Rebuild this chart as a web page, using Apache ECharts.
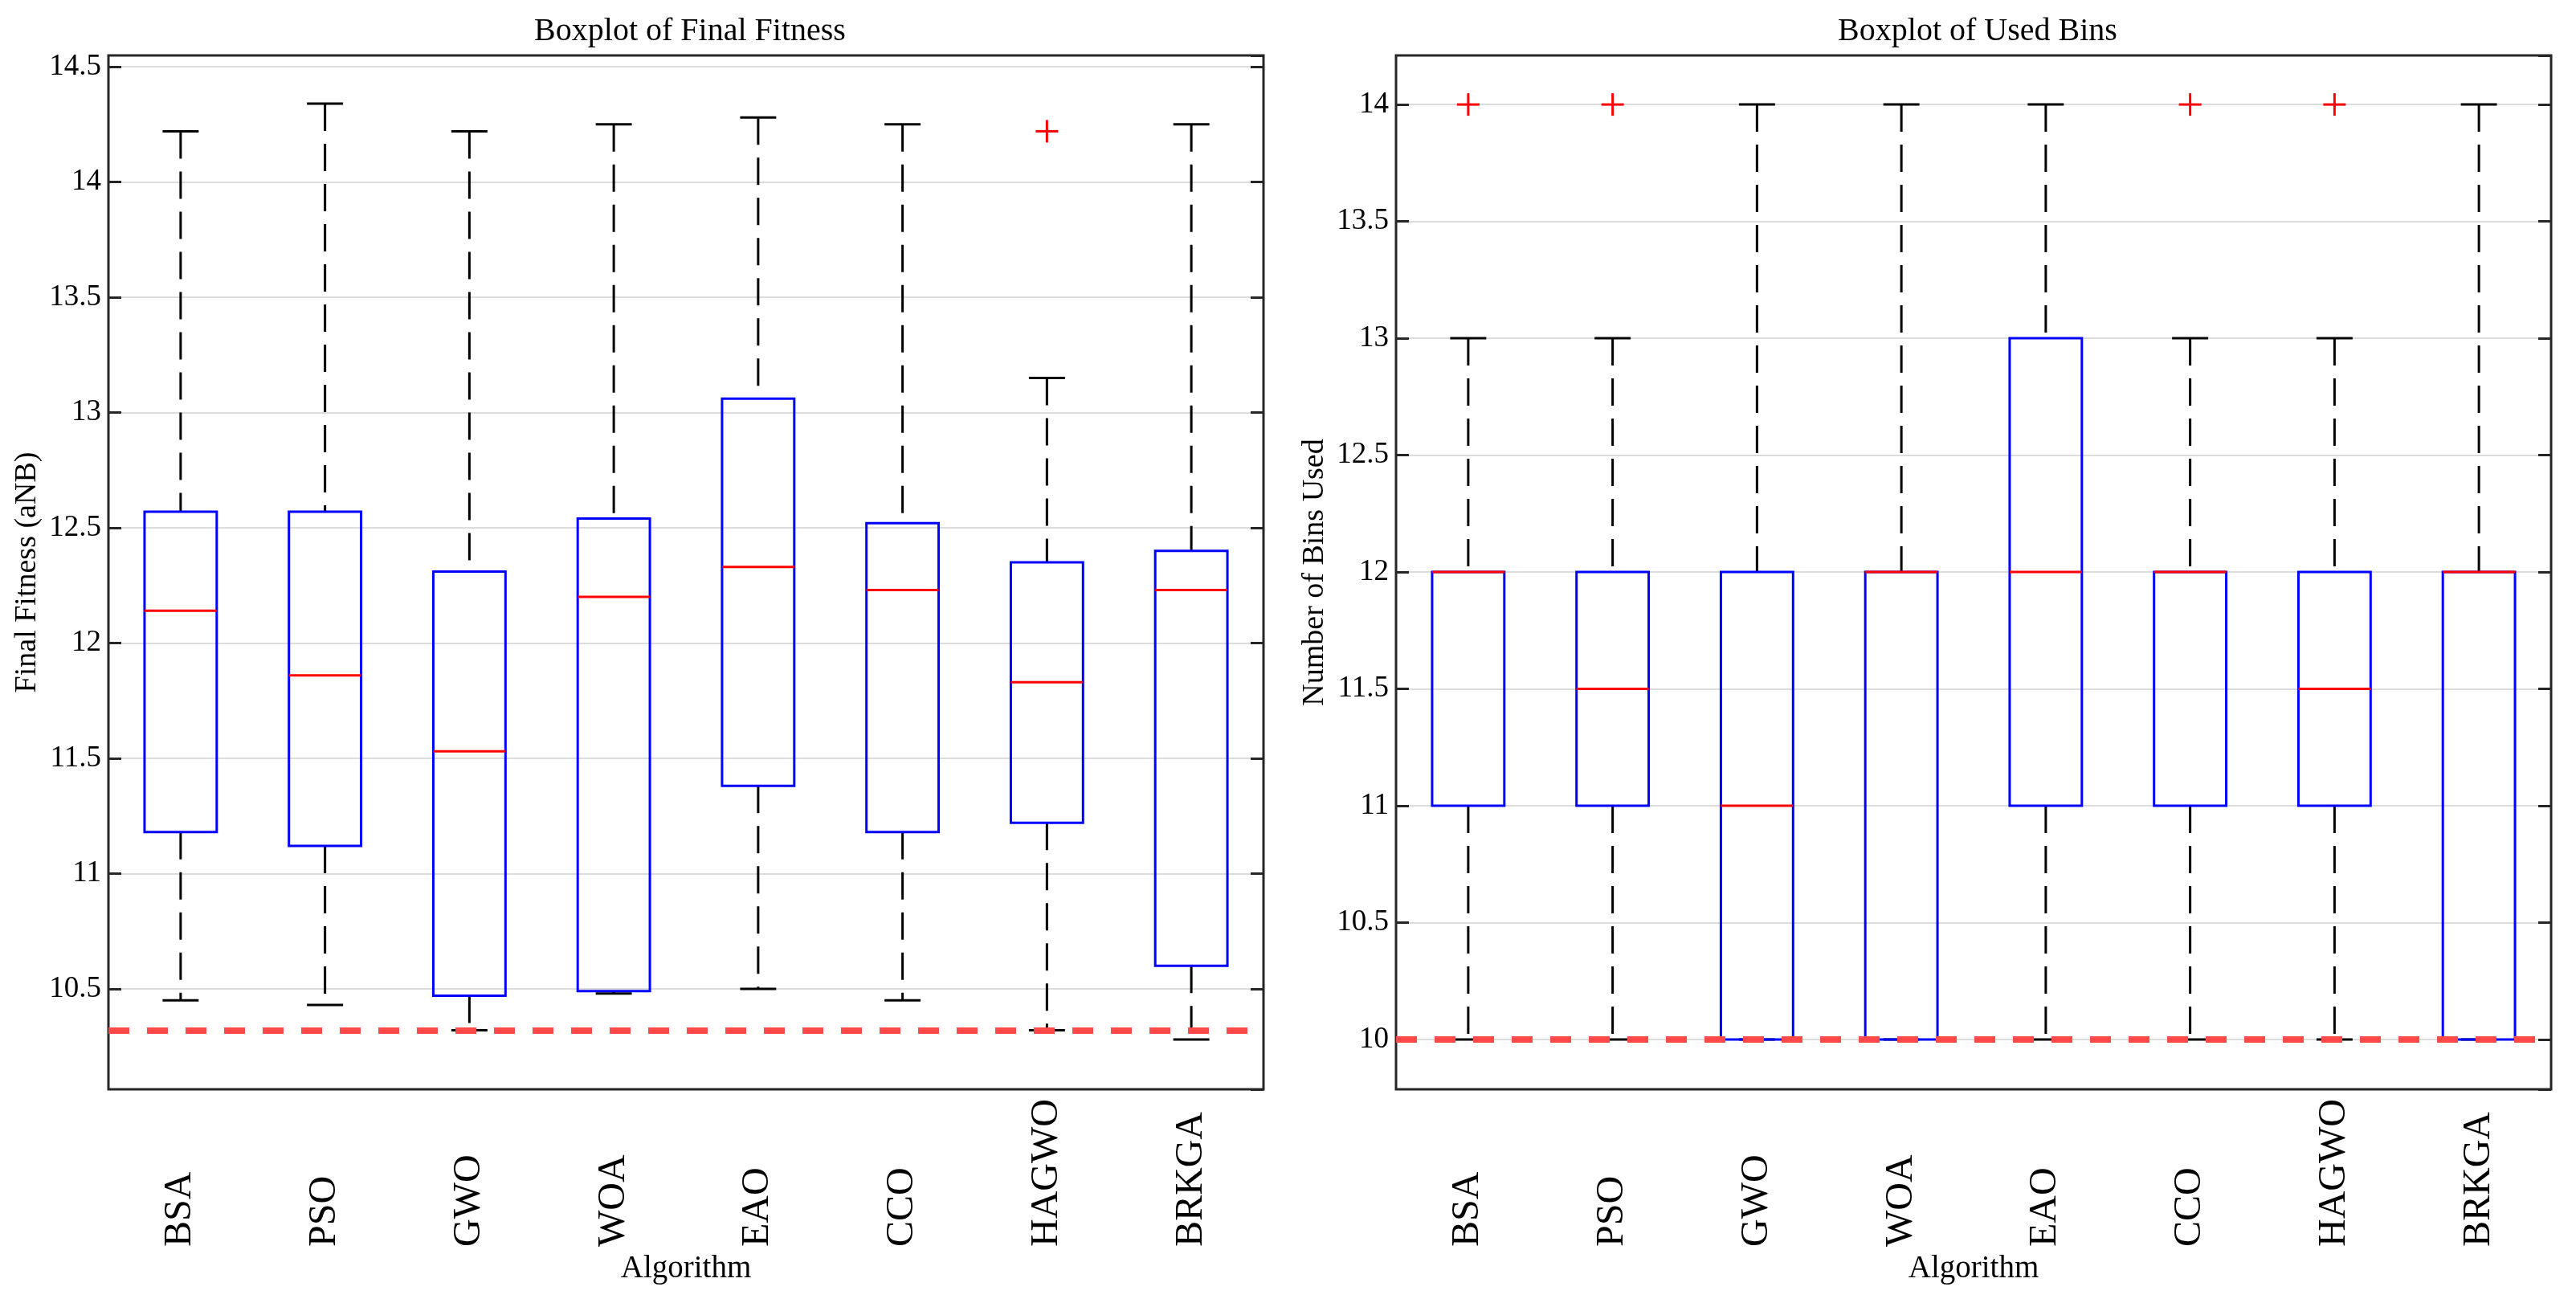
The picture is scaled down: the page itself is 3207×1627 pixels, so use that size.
<!DOCTYPE html>
<html>
<head>
<meta charset="utf-8">
<script src="https://cdn.jsdelivr.net/npm/echarts@6/dist/echarts.min.js"></script>
<style>
  html, body { margin: 0; padding: 0; background: #fff; }
  #main { width: 3207px; height: 1627px; }
</style>
</head>
<body>
<div id="main"></div>
<script>
// categories
var algorithms = ['BSA', 'PSO', 'GWO', 'WOA', 'EAO', 'CCO', 'HAGWO', 'BRKGA'];

// Boxplot of Final Fitness
var fitnessLower  = [10.45, 10.43, 10.32, 10.48, 10.50, 10.45, 10.32, 10.28];
var fitnessQ1     = [11.18, 11.12, 10.47, 10.49, 11.38, 11.18, 11.22, 10.60];
var fitnessMedian = [12.14, 11.86, 11.53, 12.20, 12.33, 12.23, 11.83, 12.23];
var fitnessQ3     = [12.57, 12.57, 12.31, 12.54, 13.06, 12.52, 12.35, 12.40];
var fitnessUpper  = [14.22, 14.34, 14.22, 14.25, 14.28, 14.25, 13.15, 14.25];
var fitnessOutliers = [[6, 14.22]];
var fitnessRef = 10.32;
var fitnessMin = 10.064, fitnessMax = 14.549;

// Boxplot of Used Bins
var binsLower  = [10, 10, 10, 10, 10, 10, 10, 10];
var binsQ1     = [11, 11, 10, 10, 11, 11, 11, 10];
var binsMedian = [12, 11.5, 11, 12, 12, 12, 11.5, 12];
var binsQ3     = [12, 12, 12, 12, 13, 12, 12, 12];
var binsUpper  = [13, 13, 14, 14, 14, 13, 13, 14];
var binsOutliers = [[0, 14], [1, 14], [5, 14], [6, 14]];
var binsRef = 10;
var binsMin = 9.787, binsMax = 14.21;

var FONT = 'Liberation Serif';
var FRAME = '#262626';

function buildRows(lo, q1, md, q3, hi) {
    var rows = [];
    for (var i = 0; i < algorithms.length; i++) {
        rows.push([i, lo[i], q1[i], md[i], q3[i], hi[i]]);
    }
    return rows;
}

function renderBox(params, api) {
    var i = api.value(0);
    var lo = api.coord([i, api.value(1)]);
    var q1 = api.coord([i, api.value(2)]);
    var md = api.coord([i, api.value(3)]);
    var q3 = api.coord([i, api.value(4)]);
    var hi = api.coord([i, api.value(5)]);
    var band = api.size([1, 0])[0];
    var bw = band * 0.5, cw = band * 0.25;
    var cx = lo[0];
    var dashed = { stroke: '#000', lineWidth: 3, lineDash: [34, 16], fill: null };
    var solid = { stroke: '#000', lineWidth: 3, fill: null };
    return {
        type: 'group',
        children: [
            { type: 'line', shape: { x1: cx, y1: hi[1], x2: cx, y2: q3[1] }, style: dashed },
            { type: 'line', shape: { x1: cx, y1: q1[1], x2: cx, y2: lo[1] }, style: dashed },
            { type: 'line', shape: { x1: cx - cw / 2, y1: hi[1], x2: cx + cw / 2, y2: hi[1] }, style: solid },
            { type: 'line', shape: { x1: cx - cw / 2, y1: lo[1], x2: cx + cw / 2, y2: lo[1] }, style: solid },
            { type: 'rect', shape: { x: cx - bw / 2, y: q3[1], width: bw, height: q1[1] - q3[1] },
              style: { stroke: '#0000ff', lineWidth: 3, fill: null } },
            { type: 'line', shape: { x1: cx - bw / 2, y1: md[1], x2: cx + bw / 2, y2: md[1] },
              style: { stroke: '#ff0000', lineWidth: 3 } }
        ]
    };
}

function renderPlus(params, api) {
    var p = api.coord([api.value(0), api.value(1)]);
    var h = 14;
    var st = { stroke: '#ff0000', lineWidth: 3 };
    return {
        type: 'group',
        children: [
            { type: 'line', shape: { x1: p[0] - h, y1: p[1], x2: p[0] + h, y2: p[1] }, style: st },
            { type: 'line', shape: { x1: p[0], y1: p[1] - h, x2: p[0], y2: p[1] + h }, style: st }
        ]
    };
}

function xAxisFor(gi) {
    return {
        type: 'category',
        gridIndex: gi,
        data: algorithms,
        boundaryGap: true,
        axisLine: { show: false },
        axisTick: { show: false },
        splitLine: { show: false },
        axisLabel: {
            rotate: 90, align: 'left', verticalAlign: 'middle', margin: 196, interval: 0,
            fontFamily: FONT, fontSize: 48, color: '#000'
        },
        name: 'Algorithm',
        nameLocation: 'middle',
        nameGap: 204,
        nameTextStyle: { fontFamily: FONT, fontSize: 39, color: '#000' }
    };
}

function yAxisFor(gi, mn, mx, name) {
    return {
        type: 'value',
        gridIndex: gi,
        min: mn, max: mx,
        splitNumber: 9,
        axisLine: { show: false },
        axisTick: { show: true, inside: true, length: 16, lineStyle: { color: FRAME, width: 3 } },
        axisLabel: {
            showMinLabel: false, showMaxLabel: false, margin: 9,
            fontFamily: FONT, fontSize: 37, color: '#000'
        },
        splitLine: { show: true, showMinLine: false, showMaxLine: false, lineStyle: { color: '#dcdcdc', width: 2 } },
        name: name,
        nameLocation: 'middle',
        nameGap: 82,
        nameTextStyle: { fontFamily: FONT, fontSize: 38, color: '#000' }
    };
}

function yAxisRight(gi, mn, mx) {
    return {
        type: 'value',
        gridIndex: gi,
        position: 'right',
        min: mn, max: mx,
        splitNumber: 9,
        axisLine: { show: false },
        axisTick: { show: true, inside: true, length: 16, lineStyle: { color: FRAME, width: 3 } },
        axisLabel: { show: false },
        splitLine: { show: false }
    };
}

function refLine(v) {
    return {
        silent: true,
        symbol: ['none', 'none'],
        label: { show: false },
        lineStyle: { color: '#ff4848', width: 8, type: [26, 22], opacity: 1 },
        data: [{ yAxis: v }],
        z: 10
    };
}

var myChart = echarts.init(document.getElementById('main'));

var option = {
    animation: false,
    backgroundColor: '#fff',
    title: [
        { text: 'Boxplot of Final Fitness', left: 854, top: 14, textAlign: 'center',
          textStyle: { fontFamily: FONT, fontSize: 40, fontWeight: 'normal', color: '#000' } },
        { text: 'Boxplot of Used Bins', left: 2457, top: 14, textAlign: 'center',
          textStyle: { fontFamily: FONT, fontSize: 40, fontWeight: 'normal', color: '#000' } }
    ],
    grid: [
        { left: 135, right: 1634, top: 69, bottom: 271, show: true, borderColor: FRAME, borderWidth: 3, backgroundColor: 'transparent' },
        { left: 1738, right: 31, top: 69, bottom: 271, show: true, borderColor: FRAME, borderWidth: 3, backgroundColor: 'transparent' }
    ],
    xAxis: [xAxisFor(0), xAxisFor(1)],
    yAxis: [
        yAxisFor(0, fitnessMin, fitnessMax, 'Final Fitness (aNB)'),
        yAxisRight(0, fitnessMin, fitnessMax),
        yAxisFor(1, binsMin, binsMax, 'Number of Bins Used'),
        yAxisRight(1, binsMin, binsMax)
    ],
    series: [
        {
            type: 'custom', xAxisIndex: 0, yAxisIndex: 0, z: 3,
            renderItem: renderBox,
            encode: { x: 0, y: [1, 2, 3, 4, 5] },
            data: buildRows(fitnessLower, fitnessQ1, fitnessMedian, fitnessQ3, fitnessUpper),
            markLine: refLine(fitnessRef)
        },
        {
            type: 'custom', xAxisIndex: 0, yAxisIndex: 0, z: 4,
            renderItem: renderPlus,
            encode: { x: 0, y: 1 },
            data: fitnessOutliers
        },
        {
            type: 'custom', xAxisIndex: 1, yAxisIndex: 2, z: 3,
            renderItem: renderBox,
            encode: { x: 0, y: [1, 2, 3, 4, 5] },
            data: buildRows(binsLower, binsQ1, binsMedian, binsQ3, binsUpper),
            markLine: refLine(binsRef)
        },
        {
            type: 'custom', xAxisIndex: 1, yAxisIndex: 2, z: 4,
            renderItem: renderPlus,
            encode: { x: 0, y: 1 },
            data: binsOutliers
        }
    ]
};

myChart.setOption(option);
</script>
</body>
</html>
